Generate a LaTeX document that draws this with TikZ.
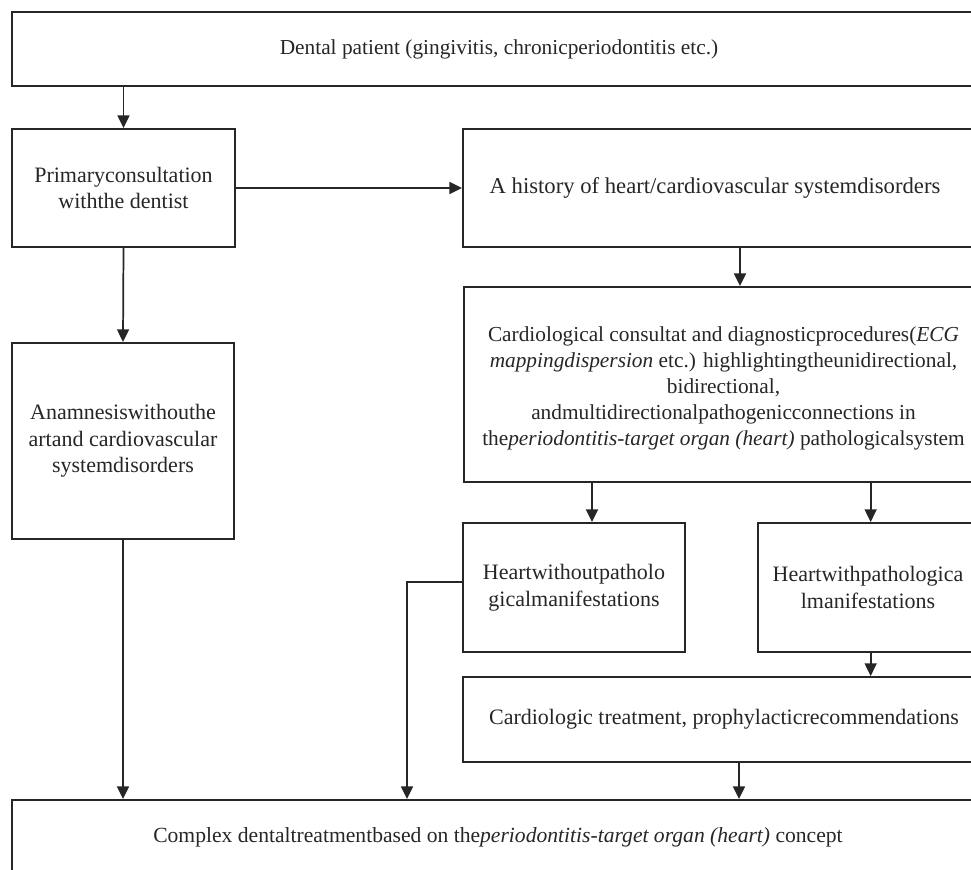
\documentclass[tikz,border=0pt]{standalone}
\usepackage{fontspec}
\setmainfont{Liberation Serif}
\usetikzlibrary{arrows.meta}
\definecolor{ink}{HTML}{262626}
\tikzset{
  box/.style={draw=ink, line width=1.5pt, rectangle, align=center, text=ink,
    font=\fontsize{16.5pt}{20pt}\selectfont, inner sep=0pt},
  arr/.style={draw=ink, line width=1.3pt, -{Triangle[length=9.5pt,width=9pt]}},
}
\begin{document}
\begin{tikzpicture}[x=0.75pt,y=-0.75pt]
\useasboundingbox (0,0) rectangle (971,869);
\node[box, font=\fontsize{16pt}{19.5pt}\selectfont, minimum width=974*0.75pt, minimum height=74*0.75pt] (top) at (499,49)
  {Dental patient (gingivitis, chronicperiodontitis etc.)};
\node[box, minimum width=223*0.75pt, minimum height=118*0.75pt] (prim) at (123.5,188)
  {Primaryconsultation\\withthe dentist};
\node[box, minimum width=222*0.75pt, minimum height=196*0.75pt] (anam) at (123,441)
  {Anamnesiswithouthe\\artand cardiovascular\\systemdisorders};
\node[box, font=\fontsize{17pt}{20pt}\selectfont, minimum width=512*0.75pt, minimum height=118*0.75pt] (hist) at (719,188)
  {\hspace*{-6pt}A history of heart/cardiovascular systemdisorders};
\node[box, font=\fontsize{16pt}{19.5pt}\selectfont, minimum width=519*0.75pt, minimum height=195*0.75pt] (card) at (723.5,384.5)
  {\rule{0pt}{17pt}Cardiological consultat and diagnosticprocedures(\textit{ECG}\\
   \textit{mappingdispersion} etc.) highlightingtheunidirectional,\\
   bidirectional,\\
   andmultidirectionalpathogenicconnections in\\
   the\textit{periodontitis-target organ (heart)} pathologicalsystem};
\node[box, minimum width=222*0.75pt, minimum height=129*0.75pt] (hwo) at (574,587.5)
  {Heartwithoutpatholo\\gicalmanifestations};
\node[box, minimum width=220*0.75pt, minimum height=129*0.75pt] (hw) at (868,587.5)
  {Heartwithpathologica\\lmanifestations};
\node[box, minimum width=522*0.75pt, minimum height=85*0.75pt] (treat) at (724,719.5)
  {Cardiologic treatment, prophylacticrecommendations};
\node[box, font=\fontsize{16.2pt}{19.5pt}\selectfont, minimum width=972*0.75pt, minimum height=74*0.75pt] (bot) at (498,837)
  {Complex dentaltreatmentbased on the\textit{periodontitis-target organ (heart)} concept};

\draw[arr] (prim.north |- top.south) -- (prim.north);
\draw[arr] (prim.east) -- (prim.east -| hist.west);
\draw[arr] (prim.south) -- (anam.north);
\draw[arr] ([xshift=15.75pt]hist.south) coordinate (h1) -- (h1 |- card.north);
\draw[arr] ([xshift=13.5pt]hwo.north |- card.south) -- ([xshift=13.5pt]hwo.north);
\draw[arr] ([xshift=2pt]hw.north |- card.south) -- ([xshift=2pt]hw.north);
\draw[arr] ([xshift=2pt]hw.south) coordinate (w1) -- (w1 |- treat.north);
\draw[arr] ([xshift=11.25pt]treat.south) coordinate (t1) -- (t1 |- bot.north);
\draw[arr] (anam.south) -- (anam.south |- bot.north);
\draw[arr] ([yshift=4.1pt]hwo.west) -| ([xshift=-68.25pt]bot.north);
\end{tikzpicture}
\end{document}
